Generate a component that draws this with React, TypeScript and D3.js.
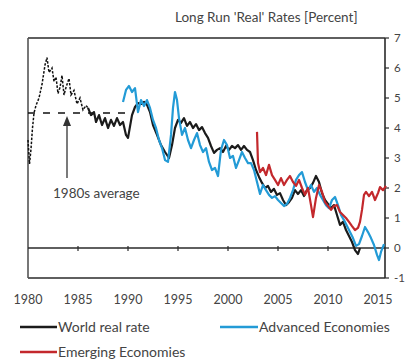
import React from "react";
import * as d3 from "d3";

// ---- data (year, percent) ----
const world1980s: [number, number][] = [
  [1980.0, 3.6], [1980.15, 2.8], [1980.3, 3.3], [1980.45, 4.0], [1980.6, 4.5], [1980.8, 4.75],
  [1981.1, 5.0], [1981.4, 5.45], [1981.7, 6.1], [1981.9, 6.35], [1982.1, 5.85], [1982.4, 6.0],
  [1982.6, 5.55], [1982.8, 5.7], [1983.0, 5.15], [1983.2, 5.35], [1983.4, 5.75], [1983.6, 5.1],
  [1983.8, 5.35], [1984.1, 5.65], [1984.3, 5.1], [1984.6, 5.25], [1984.9, 4.8], [1985.2, 5.0],
  [1985.5, 4.6], [1985.8, 4.75], [1986.0, 4.67],
];

const worldReal: [number, number][] = [
  [1986.0, 4.67], [1986.3, 4.43], [1986.6, 4.53], [1986.8, 4.2], [1987.1, 4.43], [1987.4, 4.1],
  [1987.7, 4.33], [1988.0, 4.0], [1988.3, 4.27], [1988.6, 4.07], [1988.9, 4.33], [1989.2, 4.1],
  [1989.5, 4.2], [1989.8, 3.77], [1990.0, 3.67], [1990.4, 4.43], [1990.7, 4.7], [1991.0, 4.83],
  [1991.3, 4.8], [1991.6, 4.87], [1991.9, 4.77], [1992.2, 4.53], [1992.5, 4.1], [1992.9, 3.77],
  [1993.3, 3.43], [1993.7, 3.2], [1994.1, 3.0], [1994.4, 3.43], [1994.7, 4.0], [1995.0, 4.27],
  [1995.3, 4.17], [1995.6, 4.33], [1995.9, 4.07], [1996.2, 4.2], [1996.5, 4.0], [1996.8, 4.13],
  [1997.1, 3.93], [1997.4, 4.03], [1997.7, 3.83], [1998.0, 3.67], [1998.3, 3.4], [1998.6, 3.17],
  [1998.9, 3.27], [1999.2, 3.33], [1999.5, 3.2], [1999.8, 3.4], [2000.1, 3.27], [2000.4, 3.4],
  [2000.7, 3.33], [2001.0, 3.43], [2001.3, 3.27], [2001.6, 3.4], [2001.9, 3.27], [2002.2, 3.2],
  [2002.5, 2.93], [2002.8, 2.6], [2003.1, 2.37], [2003.4, 2.17], [2003.7, 2.0], [2004.0, 2.07],
  [2004.3, 1.87], [2004.6, 1.97], [2004.9, 1.77], [2005.2, 1.83], [2005.5, 1.6], [2005.8, 1.43],
  [2006.1, 1.53], [2006.4, 1.67], [2006.7, 1.93], [2007.0, 1.8], [2007.3, 1.93], [2007.6, 1.73],
  [2007.9, 1.93], [2008.2, 2.0], [2008.5, 2.17], [2008.8, 2.4], [2009.1, 2.2], [2009.4, 1.83],
  [2009.7, 1.6], [2010.0, 1.47], [2010.3, 1.33], [2010.6, 1.43], [2010.9, 1.1], [2011.2, 0.77],
  [2011.5, 0.87], [2011.8, 0.6], [2012.1, 0.4], [2012.4, 0.2], [2012.7, -0.07], [2013.0, -0.2],
  [2013.2, 0.0],
];

const advanced: [number, number][] = [
  [1989.5, 4.87], [1989.8, 5.27], [1990.1, 5.4], [1990.4, 5.2], [1990.7, 5.33], [1991.0, 4.53],
  [1991.3, 4.93], [1991.6, 4.73], [1991.9, 4.93], [1992.2, 4.67], [1992.5, 4.27], [1992.8, 4.0],
  [1993.1, 3.6], [1993.4, 3.33], [1993.7, 2.93], [1994.0, 2.87], [1994.3, 3.77], [1994.5, 4.67],
  [1994.7, 5.2], [1994.9, 4.93], [1995.1, 4.33], [1995.4, 3.77], [1995.7, 4.0], [1996.0, 3.6],
  [1996.3, 3.33], [1996.6, 3.6], [1996.9, 3.83], [1997.2, 3.43], [1997.5, 3.2], [1997.8, 3.33],
  [1998.1, 2.87], [1998.4, 2.6], [1998.7, 2.67], [1999.0, 2.4], [1999.3, 3.27], [1999.6, 3.6],
  [1999.9, 3.43], [2000.2, 3.0], [2000.5, 3.07], [2000.8, 2.67], [2001.1, 2.93], [2001.4, 3.2],
  [2001.7, 3.0], [2002.0, 2.83], [2002.3, 2.83], [2002.6, 2.6], [2002.9, 2.2], [2003.2, 1.8],
  [2003.5, 2.1], [2003.8, 1.93], [2004.1, 1.77], [2004.4, 1.67], [2004.7, 1.73], [2005.0, 1.6],
  [2005.3, 1.5], [2005.6, 1.4], [2005.9, 1.47], [2006.2, 1.67], [2006.5, 1.93], [2006.8, 2.27],
  [2007.1, 2.43], [2007.4, 2.53], [2007.7, 2.2], [2008.0, 1.93], [2008.3, 2.1], [2008.6, 1.87],
  [2008.9, 2.0], [2009.2, 1.77], [2009.5, 1.6], [2009.8, 1.43], [2010.1, 1.33], [2010.4, 1.6],
  [2010.7, 1.7], [2011.0, 1.43], [2011.3, 1.1], [2011.6, 0.93], [2011.9, 0.73], [2012.2, 0.53],
  [2012.5, 0.33], [2012.8, 0.07], [2013.1, 0.13], [2013.4, 0.4], [2013.7, 0.7], [2014.0, 0.53],
  [2014.3, 0.33], [2014.6, 0.1], [2014.9, -0.23], [2015.1, -0.4], [2015.3, -0.13], [2015.6, 0.13],
];

const emerging: [number, number][] = [
  [2002.9, 3.87], [2003.0, 2.83], [2003.2, 2.53], [2003.5, 2.67], [2003.8, 2.43], [2004.1, 2.77],
  [2004.4, 2.43], [2004.7, 2.27], [2005.0, 2.1], [2005.3, 2.33], [2005.6, 2.1], [2005.9, 2.27],
  [2006.2, 2.4], [2006.5, 2.2], [2006.8, 2.07], [2007.1, 2.27], [2007.4, 2.0], [2007.7, 1.77],
  [2008.0, 2.0], [2008.3, 1.43], [2008.5, 1.03], [2008.8, 1.67], [2009.1, 2.1], [2009.4, 1.87],
  [2009.7, 1.53], [2010.0, 1.4], [2010.3, 1.27], [2010.6, 1.4], [2010.9, 1.43], [2011.2, 1.2],
  [2011.5, 1.1], [2011.8, 1.0], [2012.1, 0.87], [2012.4, 0.73], [2012.7, 0.6], [2013.0, 0.67],
  [2013.2, 0.87], [2013.4, 1.27], [2013.6, 1.77], [2013.8, 1.87], [2014.1, 1.73], [2014.4, 1.87],
  [2014.7, 1.6], [2015.0, 1.83], [2015.2, 2.03], [2015.5, 1.93], [2015.8, 2.07],
];

const average1980s = 4.5;
const averageSpan = [1980, 1990];
const xTicks = [1980, 1985, 1990, 1995, 2000, 2005, 2010, 2015];
const yTicks = [-1, 0, 1, 2, 3, 4, 5, 6, 7];
const title = "Long Run 'Real' Rates [Percent]";
const seriesNames = ["World real rate", "Advanced Economies", "Emerging Economies"];
const colors = { world: "#1b1b1b", adv: "#239bd6", em: "#c3282c", axis: "#2a2a2a", text: "#444" };

export default function App() {
  const W = 407, H = 361;
  const x = d3.scaleLinear().domain([1980, 2015.7]).range([28, 385]);
  const y = d3.scaleLinear().domain([-1, 7]).range([278, 38]);
  const line = d3.line<[number, number]>().x(d => x(d[0])).y(d => y(d[1]));
  const font = "Lato, 'Open Sans', sans-serif";

  return (
    <div style={{ position: "fixed", left: 0, top: 0 }}>
      <svg width={W} height={H} style={{ display: "block", background: "#fff" }}>
        <text x={175} y={22} fontFamily={font} fontSize={13.5} fill={colors.text}>{title}</text>

        {/* frame */}
        <line x1={x(1980)} x2={x(2015.7)} y1={y(7)} y2={y(7)} stroke={colors.axis} strokeWidth={1.6} />
        <line x1={x(1980)} x2={x(2015.7)} y1={y(-1)} y2={y(-1)} stroke={colors.axis} strokeWidth={1.6} />
        <line x1={x(1980)} x2={x(1980)} y1={y(7)} y2={y(-1)} stroke="#555" strokeWidth={1.6} />
        <line x1={x(2015.7)} x2={x(2015.7)} y1={y(7)} y2={y(-1)} stroke={colors.axis} strokeWidth={1.6} />

        {/* right axis */}
        {yTicks.map(t => (
          <g key={t}>
            <line x1={x(2015.7)} x2={x(2015.7) + 4} y1={y(t)} y2={y(t)} stroke={colors.axis} strokeWidth={1.2} />
            <text x={x(2015.7) + 9} y={y(t) + 4} fontFamily={font} fontSize={11.5} fill={colors.text}>{t}</text>
          </g>
        ))}

        {/* zero line with ticks */}
        <line x1={x(1980)} x2={x(2015.7)} y1={y(0)} y2={y(0)} stroke={colors.axis} strokeWidth={1.5} />
        {xTicks.slice(1, -1).map(t => (
          <line key={t} x1={x(t)} x2={x(t)} y1={y(0) - 2} y2={y(0) + 3} stroke={colors.axis} strokeWidth={1.2} />
        ))}

        {/* x labels */}
        {xTicks.map(t => (
          <text key={t} x={x(t)} y={304} textAnchor="middle" fontFamily={font} fontSize={12.5} fill={colors.text}>{t}</text>
        ))}

        {/* 1980s average */}
        <line x1={x(averageSpan[0])} x2={x(averageSpan[1])} y1={y(average1980s)} y2={y(average1980s)}
          stroke="#111" strokeWidth={1.5} strokeDasharray="7,8" />
        <path d={line(world1980s) || ""} fill="none" stroke="#111" strokeWidth={1.5} strokeDasharray="2.5,1.5" />

        <line x1={67} x2={67} y1={178} y2={120} stroke="#333" strokeWidth={1.3} />
        <path d="M63,126 L67,116 L71,126 Z" fill="#333" />
        <text x={53} y={198} fontFamily={font} fontSize={13.5} fill={colors.text}>1980s average</text>

        {/* series */}
        <path d={line(worldReal) || ""} fill="none" stroke={colors.world} strokeWidth={2.2} strokeLinejoin="round" />
        <path d={line(advanced) || ""} fill="none" stroke={colors.adv} strokeWidth={2.2} strokeLinejoin="round" />
        <path d={line(emerging) || ""} fill="none" stroke={colors.em} strokeWidth={2.2} strokeLinejoin="round" />

        {/* legend */}
        <line x1={20} x2={57} y1={327} y2={327} stroke={colors.world} strokeWidth={2.5} />
        <text x={58} y={332} fontFamily={font} fontSize={14} fill={colors.text}>{seriesNames[0]}</text>
        <line x1={220} x2={258} y1={327} y2={327} stroke={colors.adv} strokeWidth={2.5} />
        <text x={259} y={332} fontFamily={font} fontSize={14} fill={colors.text}>{seriesNames[1]}</text>
        <line x1={20} x2={57} y1={352} y2={352} stroke={colors.em} strokeWidth={2.5} />
        <text x={58} y={357} fontFamily={font} fontSize={14} fill={colors.text}>{seriesNames[2]}</text>
      </svg>
    </div>
  );
}
